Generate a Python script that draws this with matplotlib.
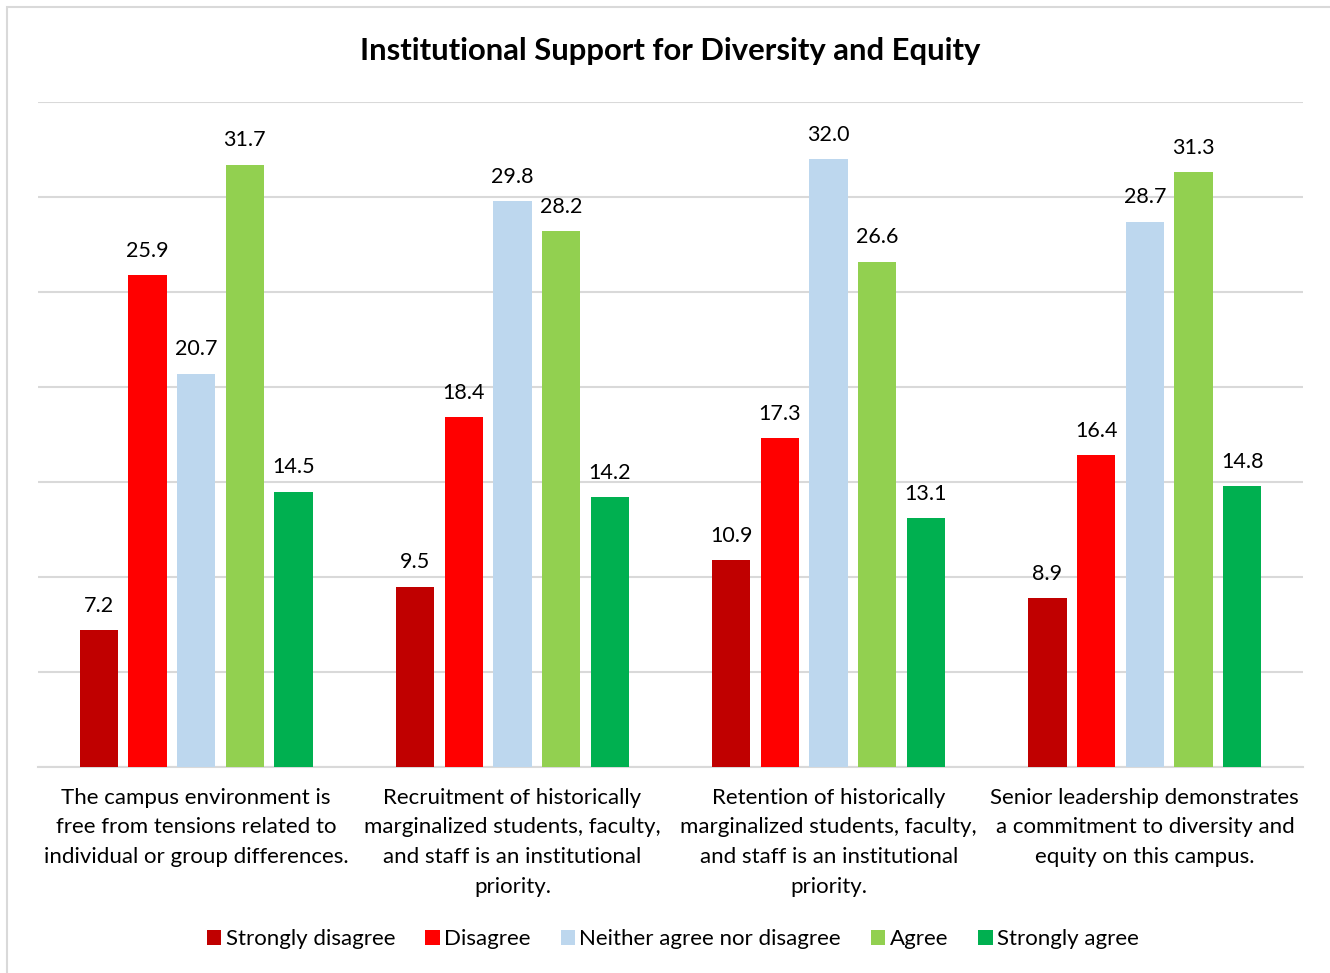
import numpy as np
import matplotlib.pyplot as plt
from matplotlib.patches import Rectangle

plt.rcParams['font.family'] = ['Lato', 'DejaVu Sans']

categories = [
    "The campus environment is\nfree from tensions related to\nindividual or group differences.",
    "Recruitment of historically\nmarginalized students, faculty,\nand staff is an institutional\npriority.",
    "Retention of historically\nmarginalized students, faculty,\nand staff is an institutional\npriority.",
    "Senior leadership demonstrates\na commitment to diversity and\nequity on this campus.",
]
series_names = ["Strongly disagree", "Disagree", "Neither agree nor disagree",
                "Agree", "Strongly agree"]
strongly_disagree = [7.2, 9.5, 10.9, 8.9]
disagree = [25.9, 18.4, 17.3, 16.4]
neither = [20.7, 29.8, 32.0, 28.7]
agree = [31.7, 28.2, 26.6, 31.3]
strongly_agree = [14.5, 14.2, 13.1, 14.8]
colors = ["#C00000", "#FF0000", "#BDD7EE", "#92D050", "#00B050"]

series = [strongly_disagree, disagree, neither, agree, strongly_agree]

fig = plt.figure(figsize=(13.3, 9.73), dpi=100)
ax = fig.add_axes([38/1330, 1 - 767/973, 1265/1330, 665/973])

# light frame around the chart
fig.patches.append(Rectangle((7/1330, -0.01), 1.1, 1 - 7/973 + 0.01,
                             transform=fig.transFigure, fill=False,
                             edgecolor="#D9D9D9", lw=1.5))

x = np.arange(len(categories))
step = 0.154
width = 0.121
handles = []
for i, (vals, name, c) in enumerate(zip(series, series_names, colors)):
    pos = x + (i - 2) * step
    bars = ax.bar(pos, vals, width, color=c, label=name, zorder=3)
    handles.append(bars)
    for xp, v in zip(pos, vals):
        ax.text(xp, v + 0.75, "%.1f" % v, ha="center", va="bottom",
                fontsize=15.5, color="#000000")

ax.set_xlim(-0.5, 3.5)
ax.set_ylim(0, 35)
ax.set_yticks(np.arange(0, 36, 5))
ax.yaxis.grid(True, color="#D9D9D9", lw=1.5, zorder=0)
ax.tick_params(axis="y", length=0, labelleft=False)
ax.set_xticks(x)
ax.set_xticklabels(categories, fontsize=16, linespacing=1.6)
ax.tick_params(axis="x", length=0, pad=15)
for s in ["top", "right", "left"]:
    ax.spines[s].set_visible(False)
ax.spines["bottom"].set_color("#D9D9D9")
ax.spines["bottom"].set_linewidth(1.5)

fig.text(0.504, 1 - 51/973, "Institutional Support for Diversity and Equity",
         ha="center", va="center", fontsize=22.3, fontweight="bold")

fig.legend(handles, series_names, loc="center", bbox_to_anchor=(0.506, 1 - 939/973),
           ncol=5, frameon=False, fontsize=16, handlelength=0.65, handleheight=0.65,
           handletextpad=0.2, columnspacing=1.35)

fig.savefig("out.png", dpi=100)
